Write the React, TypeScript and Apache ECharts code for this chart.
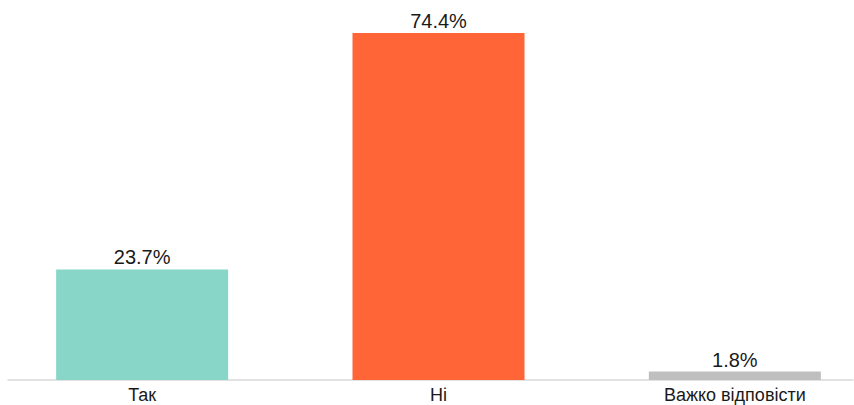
import React, { useEffect, useRef } from "react";
import * as echarts from "echarts";

const categories = ["Так", "Ні", "Важко відповісти"];
const values = [23.7, 74.4, 1.8];
const colors = ["#88D6C8", "#FF6536", "#BFBFBF"];

export default function App() {
  const ref = useRef<HTMLDivElement>(null);
  useEffect(() => {
    if (!ref.current) return;
    const chart = echarts.init(ref.current, undefined, { renderer: "svg" });
    chart.setOption({
      animation: false,
      grid: [
        { left: 0, right: 0, top: 7, bottom: 25 },
        { left: 14, right: 30, top: 7, bottom: 25 },
      ],
      xAxis: [
        {
          type: "category",
          gridIndex: 0,
          data: categories,
          axisLine: { show: false },
          axisTick: { show: false },
          axisLabel: {
            color: "#1a1a1a",
            fontSize: 18,
            fontFamily: "Liberation Sans, Arial, sans-serif",
            margin: 6,
          },
        },
        {
          type: "value",
          gridIndex: 1,
          min: 0,
          max: 1,
          axisLine: { show: true, lineStyle: { color: "#D9D9D9", width: 1.5 } },
          axisTick: { show: false },
          axisLabel: { show: false },
          splitLine: { show: false },
        },
      ],
      yAxis: [
        { type: "value", gridIndex: 0, min: 0, max: 80, show: false },
        { type: "value", gridIndex: 1, min: 0, max: 1, show: false },
      ],
      series: [
        {
          type: "bar",
          xAxisIndex: 0,
          yAxisIndex: 0,
          barWidth: 172,
          data: values.map((v, i) => ({ value: v, itemStyle: { color: colors[i] } })),
          label: {
            show: true,
            position: "top",
            distance: 2,
            color: "#1a1a1a",
            fontSize: 20,
            fontFamily: "Liberation Sans, Arial, sans-serif",
            formatter: (p: any) => p.value.toFixed(1) + "%",
          },
        },
      ],
    });
    return () => chart.dispose();
  }, []);
  return (
    <div
      style={{ position: "absolute", left: 0, top: 0, width: 854, height: 405, overflow: "hidden", background: "#fff" }}
    >
      <div
        ref={ref}
        style={{ position: "absolute", left: -6, top: 0, width: 889, height: 405 }}
      />
    </div>
  );
}
